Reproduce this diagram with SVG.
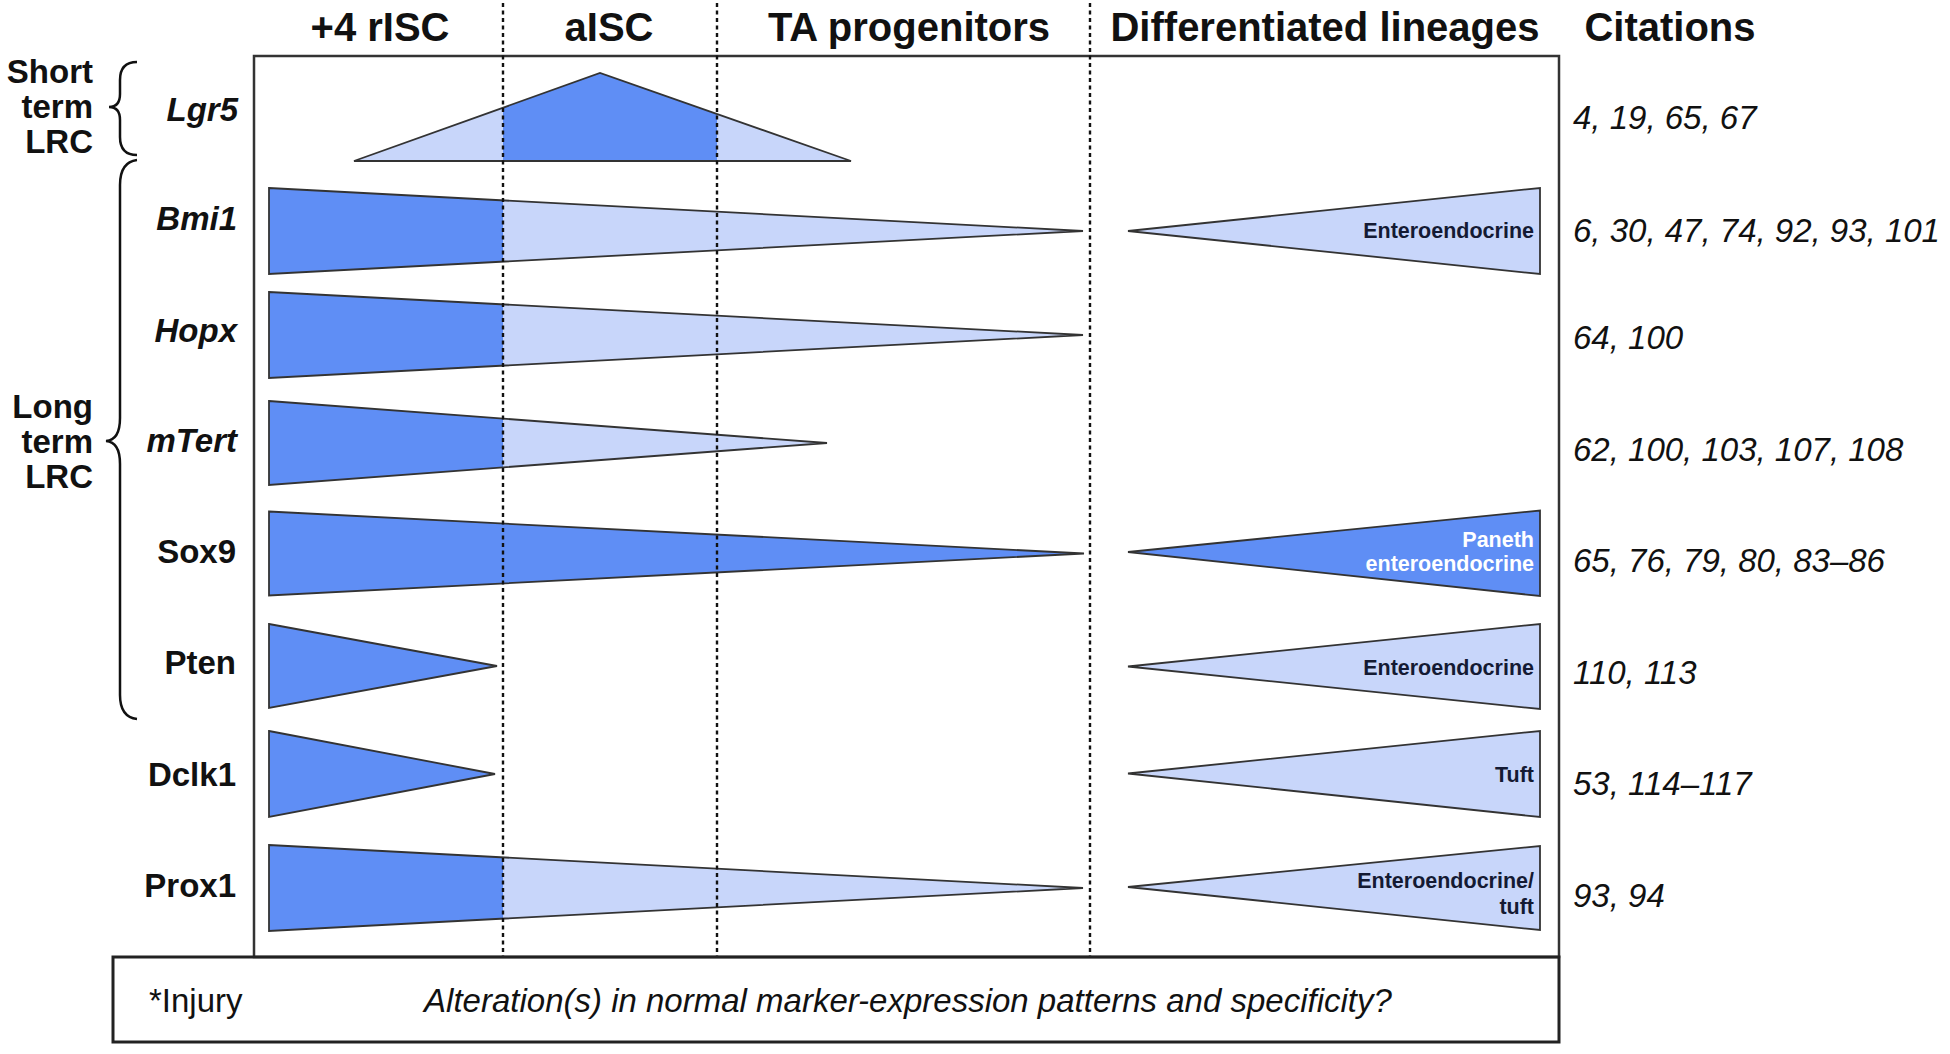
<svg xmlns="http://www.w3.org/2000/svg" width="1950" height="1054" viewBox="0 0 1950 1054">
<style>
.hd{font-family:"Liberation Sans",Arial,sans-serif;font-weight:bold;font-size:40px;fill:#111;text-anchor:middle}
.grp{font-family:"Liberation Sans",Arial,sans-serif;font-weight:bold;font-size:33px;fill:#111;text-anchor:end}
.lbl{font-family:"Liberation Sans",Arial,sans-serif;font-weight:bold;font-size:33px;fill:#111;text-anchor:end}
.it{font-style:italic}
.cit{font-family:"Liberation Sans",Arial,sans-serif;font-style:italic;font-size:33px;fill:#111}
.tl{font-family:"Liberation Sans",Arial,sans-serif;font-weight:bold;font-size:21.5px;fill:#141a33;text-anchor:end}
.tw{fill:#fff}
.dk{fill:#5f8ef5;stroke:none}
.lt{fill:#c8d6fa;stroke:none}
.ol{fill:none;stroke:#333;stroke-width:1.8;stroke-linejoin:miter}
.dot{stroke:#111;stroke-width:2.4;stroke-dasharray:4 3.5;fill:none}
.box{fill:none;stroke:#333;stroke-width:2.5}
.brace{fill:none;stroke:#111;stroke-width:2.5}
.bt{font-family:"Liberation Sans",Arial,sans-serif;font-size:33px;fill:#111}
</style>

<rect x="0" y="0" width="1950" height="1054" fill="#fff"/>

<g id="headers">
<text class="hd" x="380" y="41">+4 rISC</text>
<text class="hd" x="609" y="41">aISC</text>
<text class="hd" x="909" y="41">TA progenitors</text>
<text class="hd" x="1325" y="41">Differentiated lineages</text>
<text class="hd" x="1670" y="41">Citations</text>
</g>

<g id="frame">
<rect class="box" x="254" y="56" width="1305" height="901"/>
</g>

<g id="group-short">
<text class="grp" x="93" y="83">Short</text>
<text class="grp" x="93" y="118">term</text>
<text class="grp" x="93" y="153">LRC</text>
<path class="brace" d="M137,62 Q120,62 120,80 L120,94 Q120,107 109,107 Q120,107 120,120 L120,137 Q120,155 137,155"/>
</g>

<g id="group-long">
<text class="grp" x="93" y="418">Long</text>
<text class="grp" x="93" y="453">term</text>
<text class="grp" x="93" y="488">LRC</text>
<path class="brace" d="M137,160 Q120,162 120,185 L120,418 Q120,440 106,441 Q120,442 120,464 L120,695 Q120,717 137,719"/>
</g>

<g id="row-lgr5">
<text class="lbl it" x="238" y="121">Lgr5</text>
<polygon class="lt" points="354,161 503,107.7 503,161"/>
<polygon class="dk" points="503,107.7 600,73 717,114 717,161 503,161"/>
<polygon class="lt" points="717,114 851,161 717,161"/>
<polygon class="ol" points="354,161 600,73 851,161"/>
<text class="cit" x="1573" y="129">4, 19, 65, 67</text>
</g>

<g id="row-bmi1">
<text class="lbl it" x="237" y="230">Bmi1</text>
<polygon class="dk" points="269,188 503,200.4 503,261.6 269,274"/>
<polygon class="lt" points="503,200.4 1083,231 503,261.6"/>
<polygon class="ol" points="269,188 1083,231 269,274"/>
<polygon class="lt" points="1128,231 1540,188 1540,274"/>
<polygon class="ol" points="1128,231 1540,188 1540,274"/>
<text class="tl" x="1534" y="238">Enteroendocrine</text>
<text class="cit" x="1573" y="242">6, 30, 47, 74, 92, 93, 101</text>
</g>

<g id="row-hopx">
<text class="lbl it" x="237" y="342">Hopx</text>
<polygon class="dk" points="269,292 503,304.4 503,365.6 269,378"/>
<polygon class="lt" points="503,304.4 1083,335 503,365.6"/>
<polygon class="ol" points="269,292 1083,335 269,378"/>
<text class="cit" x="1573" y="349">64, 100</text>
</g>

<g id="row-mtert">
<text class="lbl it" x="237" y="452">mTert</text>
<polygon class="dk" points="269,401 503,418.6 503,467.4 269,485"/>
<polygon class="lt" points="503,418.6 827,443 503,467.4"/>
<polygon class="ol" points="269,401 827,443 269,485"/>
<text class="cit" x="1573" y="461">62, 100, 103, 107, 108</text>
</g>

<g id="row-sox9">
<text class="lbl" x="236" y="563">Sox9</text>
<polygon class="dk" points="269,511.5 1084,553.5 269,595.5"/>
<polygon class="ol" points="269,511.5 1084,553.5 269,595.5"/>
<polygon class="dk" points="1128,552 1540,510.5 1540,596"/>
<polygon class="ol" points="1128,552 1540,510.5 1540,596"/>
<text class="tl tw" x="1534" y="547">Paneth</text>
<text class="tl tw" x="1534" y="571">enteroendocrine</text>
<text class="cit" x="1573" y="572">65, 76, 79, 80, 83–86</text>
</g>

<g id="row-pten">
<text class="lbl" x="236" y="674">Pten</text>
<polygon class="dk" points="269,624 497,666 269,708"/>
<polygon class="ol" points="269,624 497,666 269,708"/>
<polygon class="lt" points="1128,666.5 1540,624 1540,709"/>
<polygon class="ol" points="1128,666.5 1540,624 1540,709"/>
<text class="tl" x="1534" y="675">Enteroendocrine</text>
<text class="cit" x="1573" y="684">110, 113</text>
</g>

<g id="row-dclk1">
<text class="lbl" x="236" y="786">Dclk1</text>
<polygon class="dk" points="269,731 495,774 269,817"/>
<polygon class="ol" points="269,731 495,774 269,817"/>
<polygon class="lt" points="1128,773.5 1540,731 1540,817"/>
<polygon class="ol" points="1128,773.5 1540,731 1540,817"/>
<text class="tl" x="1534" y="782">Tuft</text>
<text class="cit" x="1573" y="795">53, 114–117</text>
</g>

<g id="row-prox1">
<text class="lbl" x="236" y="897">Prox1</text>
<polygon class="dk" points="269,845 503,857.4 503,918.6 269,931"/>
<polygon class="lt" points="503,857.4 1083,888 503,918.6"/>
<polygon class="ol" points="269,845 1083,888 269,931"/>
<polygon class="lt" points="1128,887 1540,846 1540,930"/>
<polygon class="ol" points="1128,887 1540,846 1540,930"/>
<text class="tl" x="1534" y="888">Enteroendocrine/</text>
<text class="tl" x="1534" y="914">tuft</text>
<text class="cit" x="1573" y="907">93, 94</text>
</g>

<g id="dividers">
<line class="dot" x1="503" y1="3" x2="503" y2="957"/>
<line class="dot" x1="717" y1="3" x2="717" y2="957"/>
<line class="dot" x1="1090" y1="3" x2="1090" y2="957"/>
</g>

<g id="injury-box">
<rect x="113" y="957" width="1446" height="85" fill="none" stroke="#222" stroke-width="3"/>
<text class="bt" x="149" y="1012">*Injury</text>
<text class="bt it" x="908" y="1012" text-anchor="middle">Alteration(s) in normal marker-expression patterns and specificity?</text>
</g>
</svg>
